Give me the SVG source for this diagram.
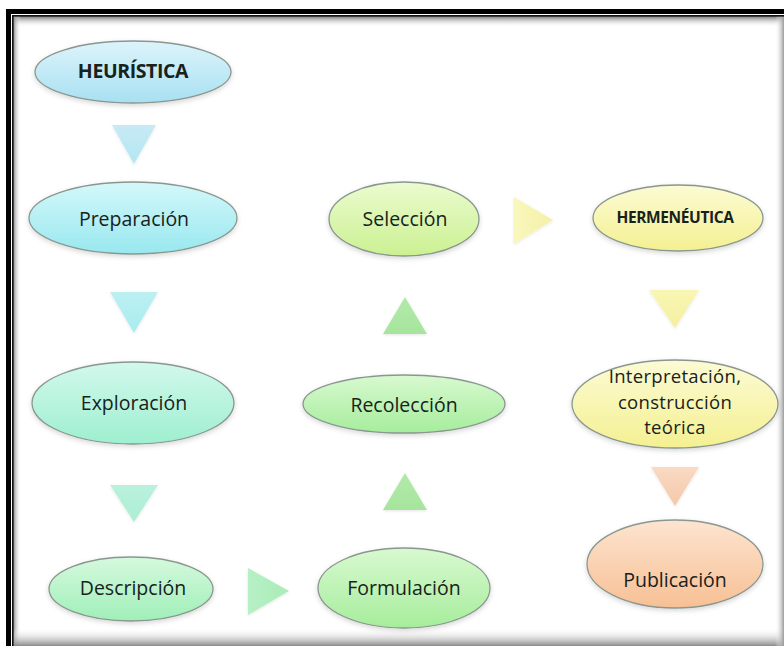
<svg xmlns="http://www.w3.org/2000/svg" width="784" height="646" viewBox="0 0 784 646">
  <defs>
    <style>
      .node { stroke: #8a978f; stroke-width: 1.3; filter: url(#soft); }
      .lbl { font-family: "Open Sans", "Noto Sans", "Liberation Sans", sans-serif; font-size: 19.5px; fill: #18221c; text-anchor: middle; }
      .bold { font-weight: bold; font-size: 19.5px; letter-spacing: -0.4px; }
      .multi { font-size: 18.5px; letter-spacing: 0.3px; }
      .tri { filter: url(#softTri); }
    </style>
    <filter id="soft" x="-20%" y="-30%" width="140%" height="160%">
      <feDropShadow dx="0" dy="2" stdDeviation="2.5" flood-color="#000" flood-opacity="0.16"/>
    </filter>
    <filter id="softTri" x="-30%" y="-30%" width="160%" height="160%">
      <feDropShadow dx="0" dy="1" stdDeviation="1.5" flood-color="#000" flood-opacity="0.1"/>
    </filter>
    <!-- node fills -->
    <linearGradient id="gBlue" x1="0" y1="0" x2="0" y2="1">
      <stop offset="0" stop-color="#ddf4fb"/><stop offset="1" stop-color="#a8e0f2"/>
    </linearGradient>
    <linearGradient id="gCyan" x1="0" y1="0" x2="0" y2="1">
      <stop offset="0" stop-color="#d4f8fa"/><stop offset="1" stop-color="#98e8ef"/>
    </linearGradient>
    <linearGradient id="gTeal" x1="0" y1="0" x2="0" y2="1">
      <stop offset="0" stop-color="#d2f8ec"/><stop offset="1" stop-color="#9eefd0"/>
    </linearGradient>
    <linearGradient id="gMint" x1="0" y1="0" x2="0" y2="1">
      <stop offset="0" stop-color="#d5f9de"/><stop offset="1" stop-color="#a0efb8"/>
    </linearGradient>
    <linearGradient id="gGreen" x1="0" y1="0" x2="0" y2="1">
      <stop offset="0" stop-color="#d8f9d0"/><stop offset="1" stop-color="#a6ed9c"/>
    </linearGradient>
    <linearGradient id="gLime" x1="0" y1="0" x2="0" y2="1">
      <stop offset="0" stop-color="#ebfbcf"/><stop offset="1" stop-color="#cbf192"/>
    </linearGradient>
    <linearGradient id="gYellow" x1="0" y1="0" x2="0" y2="1">
      <stop offset="0" stop-color="#fcfbd4"/><stop offset="1" stop-color="#f4f092"/>
    </linearGradient>
    <linearGradient id="gPeach" x1="0" y1="0" x2="0" y2="1">
      <stop offset="0" stop-color="#fde4d0"/><stop offset="1" stop-color="#f7c094"/>
    </linearGradient>
    <!-- arrow fills -->
    <linearGradient id="tBlue" x1="0" y1="0" x2="0" y2="1">
      <stop offset="0" stop-color="#c8eaf5"/><stop offset="1" stop-color="#b2e7f2"/>
    </linearGradient>
    <linearGradient id="tCyan" x1="0" y1="0" x2="0" y2="1">
      <stop offset="0" stop-color="#bcf0f3"/><stop offset="1" stop-color="#a8ecee"/>
    </linearGradient>
    <linearGradient id="tTeal" x1="0" y1="0" x2="0" y2="1">
      <stop offset="0" stop-color="#baf1de"/><stop offset="1" stop-color="#acefd2"/>
    </linearGradient>
    <linearGradient id="tMint" x1="0" y1="0" x2="1" y2="0">
      <stop offset="0" stop-color="#b6f0c6"/><stop offset="1" stop-color="#aaecb6"/>
    </linearGradient>
    <linearGradient id="tGreen" x1="0" y1="0" x2="0" y2="1">
      <stop offset="0" stop-color="#b2eaa8"/><stop offset="1" stop-color="#a6e59e"/>
    </linearGradient>
    <linearGradient id="tYellowR" x1="0" y1="0" x2="1" y2="0">
      <stop offset="0" stop-color="#f9f7bc"/><stop offset="1" stop-color="#f5f0a8"/>
    </linearGradient>
    <linearGradient id="tYellow" x1="0" y1="0" x2="0" y2="1">
      <stop offset="0" stop-color="#f9f6b4"/><stop offset="1" stop-color="#f4efa0"/>
    </linearGradient>
    <linearGradient id="tPeach" x1="0" y1="0" x2="0" y2="1">
      <stop offset="0" stop-color="#f9dac4"/><stop offset="1" stop-color="#f5c8a8"/>
    </linearGradient>
    <!-- inner frame shading -->
    <linearGradient id="shTop" x1="0" y1="0" x2="0" y2="1">
      <stop offset="0" stop-color="#707070"/><stop offset="1" stop-color="#ffffff" stop-opacity="0"/>
    </linearGradient>
    <linearGradient id="shLeft" x1="0" y1="0" x2="1" y2="0">
      <stop offset="0" stop-color="#808080"/><stop offset="1" stop-color="#ffffff" stop-opacity="0"/>
    </linearGradient>
    <linearGradient id="shBottom" x1="0" y1="1" x2="0" y2="0">
      <stop offset="0" stop-color="#8a8a8a"/><stop offset="1" stop-color="#ffffff" stop-opacity="0"/>
    </linearGradient>
    <linearGradient id="shRight" x1="1" y1="0" x2="0" y2="0">
      <stop offset="0" stop-color="#9a9a9a"/><stop offset="1" stop-color="#ffffff" stop-opacity="0"/>
    </linearGradient>
  </defs>

  <!-- page -->
  <rect x="0" y="0" width="784" height="646" fill="#ffffff"/>

  <!-- frame -->
  <g id="frame">
    <rect x="13" y="16" width="771" height="11" fill="url(#shTop)"/>
    <rect x="13" y="16" width="8" height="630" fill="url(#shLeft)"/>
    <rect x="13" y="628" width="771" height="18" fill="url(#shBottom)"/>
    <rect x="775" y="16" width="9" height="630" fill="url(#shRight)"/>
    <rect x="6" y="9" width="778" height="5" fill="#000"/>
    <rect x="6" y="9" width="5" height="637" fill="#000"/>
    <rect x="12" y="15" width="772" height="1.6" fill="#111"/>
    <rect x="12" y="15" width="1.6" height="631" fill="#111"/>
  </g>

  <!-- arrows -->
  <g id="connectors">
    <polygon class="tri" points="112,125 156,125 134,164" fill="url(#tBlue)"/>
    <polygon class="tri" points="110,292 158,292 134,333" fill="url(#tCyan)"/>
    <polygon class="tri" points="110,485 158,485 134,522" fill="url(#tTeal)"/>
    <polygon class="tri" points="248,568 248,615 289,591" fill="url(#tMint)"/>
    <polygon class="tri" points="383,510 427,510 405,473" fill="url(#tGreen)"/>
    <polygon class="tri" points="383,334 427,334 405,297" fill="url(#tGreen)"/>
    <polygon class="tri" points="514,197 514,244 553,220" fill="url(#tYellowR)"/>
    <polygon class="tri" points="649,290 699,290 675,328" fill="url(#tYellow)"/>
    <polygon class="tri" points="651,467 699,467 675,506" fill="url(#tPeach)"/>
  </g>

  <g id="n-heuristica">
    <ellipse class="node" cx="133" cy="72" rx="98" ry="31" fill="url(#gBlue)"/>
    <text class="lbl bold" x="133" y="78">HEURÍSTICA</text>
  </g>
  <g id="n-preparacion">
    <ellipse class="node" cx="133" cy="218" rx="104" ry="36" fill="url(#gCyan)"/>
    <text class="lbl" x="134" y="226">Preparación</text>
  </g>
  <g id="n-exploracion">
    <ellipse class="node" cx="133" cy="403" rx="101" ry="41" fill="url(#gTeal)"/>
    <text class="lbl" x="134" y="410">Exploración</text>
  </g>
  <g id="n-descripcion">
    <ellipse class="node" cx="131" cy="589" rx="82" ry="32" fill="url(#gMint)"/>
    <text class="lbl" x="133" y="595">Descripción</text>
  </g>
  <g id="n-formulacion">
    <ellipse class="node" cx="404" cy="588" rx="86" ry="40" fill="url(#gGreen)"/>
    <text class="lbl" x="404" y="595">Formulación</text>
  </g>
  <g id="n-recoleccion">
    <ellipse class="node" cx="404" cy="404" rx="101" ry="29" fill="url(#gGreen)"/>
    <text class="lbl" x="404" y="412">Recolección</text>
  </g>
  <g id="n-seleccion">
    <ellipse class="node" cx="404" cy="219" rx="75" ry="37" fill="url(#gLime)"/>
    <text class="lbl" x="405" y="226">Selección</text>
  </g>
  <g id="n-hermeneutica">
    <ellipse class="node" cx="678" cy="218" rx="85" ry="33" fill="url(#gYellow)"/>
    <text class="lbl bold" x="675" y="223" style="font-size:15.5px">HERMENÉUTICA</text>
  </g>
  <g id="n-interpretacion">
    <ellipse class="node" cx="675" cy="404" rx="103" ry="44" fill="url(#gYellow)"/>
    <text class="lbl multi" x="675" y="383">Interpretación,</text>
    <text class="lbl multi" x="675" y="408.5">construcción</text>
    <text class="lbl multi" x="675" y="434">teórica</text>
  </g>
  <g id="n-publicacion">
    <ellipse class="node" cx="675" cy="564" rx="88" ry="44" fill="url(#gPeach)"/>
    <text class="lbl" x="675" y="587">Publicación</text>
  </g>
</svg>
